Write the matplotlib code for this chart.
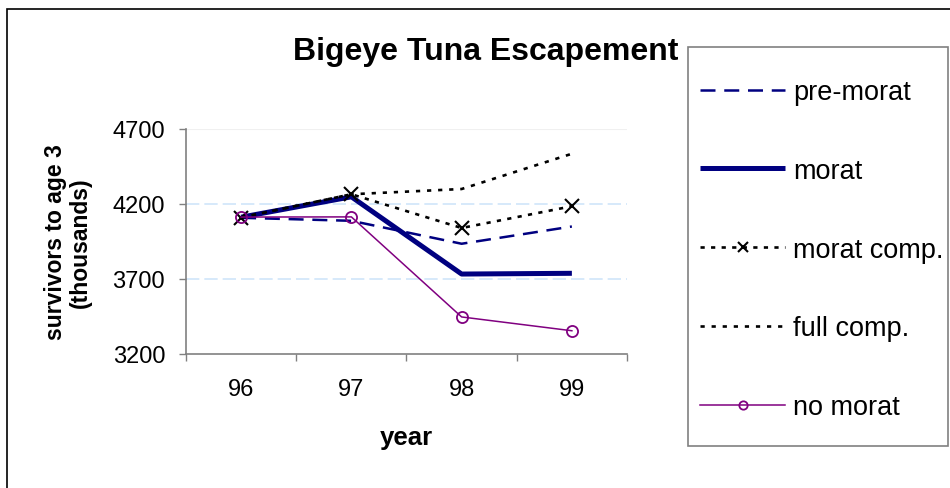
import matplotlib
matplotlib.use("Agg")
from matplotlib import pyplot as plt
from matplotlib.patches import Rectangle

plt.rcParams['font.family'] = ['Liberation Sans', 'DejaVu Sans']

# data
YEARS = [96, 97, 98, 99]
PRE_MORAT = [4108, 4088, 3935, 4050]
MORAT = [4112, 4248, 3733, 3738]
MORAT_COMP = [4110, 4265, 4040, 4185]
FULL_COMP = [4110, 4265, 4300, 4535]
NO_MORAT = [4113, 4114, 3447, 3355]

NAVY = '#000080'
PURPLE = '#800080'

fig = plt.figure(figsize=(9.5, 4.89), dpi=100)
W, H = 950, 489
ax = fig.add_axes([186 / W, 1 - 355 / H, (627 - 186) / W, (355 - 130) / H])

ax.plot(YEARS, PRE_MORAT, color=NAVY, lw=1.8, linestyle=(0, (6, 3.5)),
        label='pre-morat')
ax.plot(YEARS, MORAT, color=NAVY, lw=3.6, solid_capstyle='butt', label='morat')
ax.plot(YEARS, MORAT_COMP, color='black', lw=1.9, linestyle=(0, (1.6, 2.4)),
        marker='x', markersize=10, mew=1.5, label='morat comp.')
ax.plot(YEARS, FULL_COMP, color='black', lw=1.9, linestyle=(0, (1.6, 2.6)),
        label='full comp.')
ax.plot(YEARS, NO_MORAT, color=PURPLE, lw=1.1, marker='o', markersize=8,
        mfc='none', mec=PURPLE, mew=1.3, label='no morat')

# gridlines
ax.axhline(4700, color='#f0f0f0', lw=0.8, zorder=0)
for g in [4200, 3700]:
    ax.axhline(g, color='#cfe5fa', lw=1.2, linestyle=(0, (8, 3)), zorder=0)

ax.set_xlim(95.5, 99.5)
ax.set_ylim(3200, 4700)
ax.set_yticks([3200, 3700, 4200, 4700])
ax.set_xticks(YEARS)
ax.set_xticks([95.5, 96.5, 97.5, 98.5, 99.5], minor=True)
ax.tick_params(axis='x', which='major', length=0, pad=17, labelsize=17)
ax.tick_params(axis='x', which='minor', length=5, width=1, color='#808080')
ax.tick_params(axis='y', length=5, width=1, color='#808080', pad=10, labelsize=17)

for s in ['top', 'right']:
    ax.spines[s].set_visible(False)
for s in ['left', 'bottom']:
    ax.spines[s].set_color('#808080')
    ax.spines[s].set_linewidth(1.2)

ax.set_ylabel('survivors to age 3\n(thousands)', fontsize=16.5, fontweight='bold',
              va='center', linespacing=1.1)
ax.yaxis.set_label_coords((68 - 186) / 441, 0.5)
ax.set_xlabel('year', fontsize=18.5, fontweight='bold', va='center')
ax.xaxis.set_label_coords(0.5, (355 - 438) / 225)

fig.text(486 / W, 1 - 52 / H, 'Bigeye Tuna Escapement', fontsize=23,
         fontweight='bold', ha='center', va='center')

# legend entries without frame, the box is drawn separately
fig.legend(loc='upper left', bbox_to_anchor=(700 / W, 1 - 80 / H),
           borderaxespad=0, borderpad=0, fontsize=19.5, frameon=False,
           handlelength=3.15, handletextpad=0.3, labelspacing=1.95,
           numpoints=1, markerscale=0.75)
fig.patches.append(Rectangle((688 / W, 1 - 447 / H), 260 / W, 399 / H,
                             transform=fig.transFigure, fill=False,
                             edgecolor='#808080', lw=1.2))

# outer chart border
fig.patches.append(Rectangle((7 / W, -0.1), 1.2, 1.1 - 10 / H,
                             transform=fig.transFigure, fill=False,
                             edgecolor='black', lw=1.2))

fig.savefig('out.png', dpi=100)
